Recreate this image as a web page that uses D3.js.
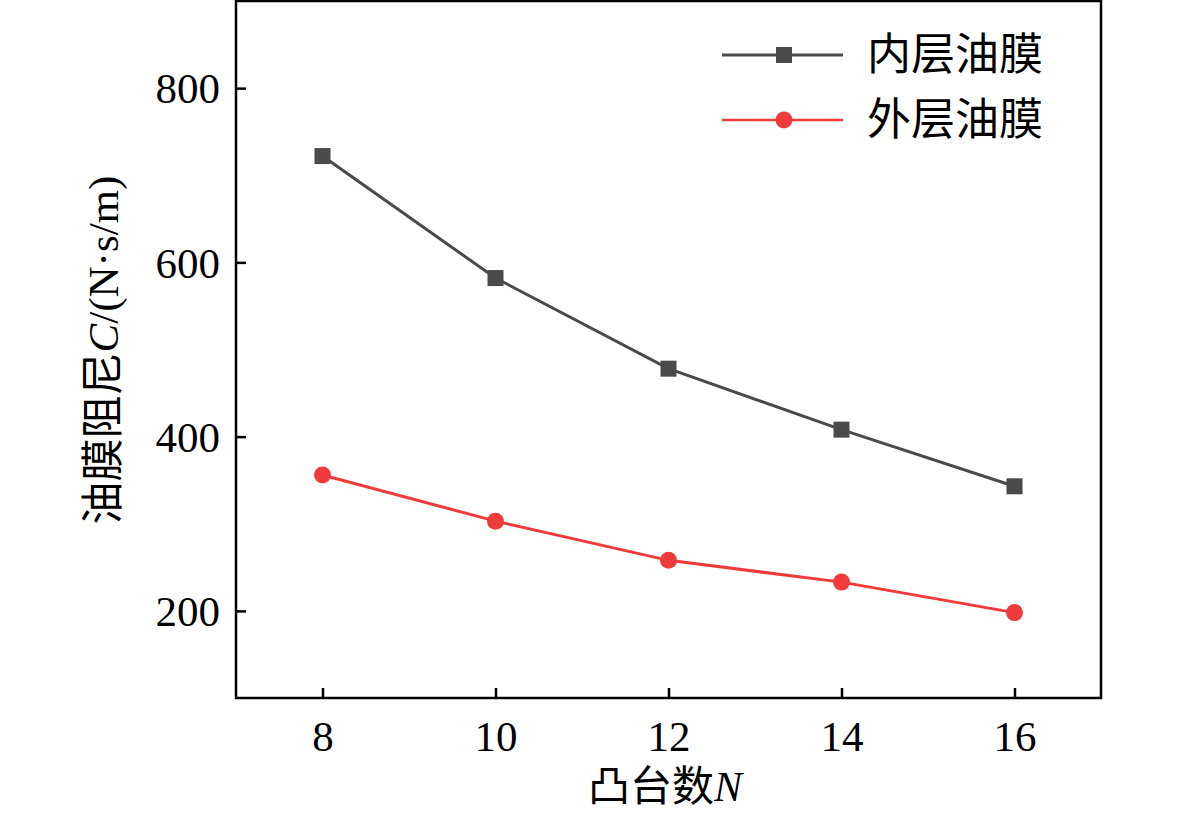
<!DOCTYPE html>
<html>
<head>
<meta charset="utf-8">
<script src="https://cdn.jsdelivr.net/npm/d3@7"></script>
<style>
  body { margin: 0; background: #ffffff; }
</style>
</head>
<body>
<script>
// data
var bosses = [8, 10, 12, 14, 16];
var innerFilm = [722, 582, 478, 408, 343];
var outerFilm = [356, 303, 258, 233, 198];
var seriesNames = ["内层油膜", "外层油膜"];
var xTicks = [8, 10, 12, 14, 16];
var yTicks = [200, 400, 600, 800];

var W = 1181, H = 817;
var plotLeft = 236, plotRight = 1101, plotTop = 1, plotBottom = 698;
var serif = "'Liberation Serif', 'Times New Roman', 'Noto Sans CJK SC', serif";
var cjk = "'Liberation Serif', 'Noto Sans CJK SC', serif";

var svg = d3.select("body").append("svg")
    .attr("width", W)
    .attr("height", H);

var x = d3.scaleLinear().domain([7, 17]).range([plotLeft, plotRight]);
var y = d3.scaleLinear().domain([100, 900]).range([plotBottom, plotTop]);

// axes, ticks pointing inward
var xAxis = svg.append("g")
    .attr("transform", "translate(0," + plotBottom + ")")
    .call(d3.axisBottom(x).tickValues(xTicks).tickSizeInner(-10).tickSizeOuter(0).tickPadding(22));
var yAxis = svg.append("g")
    .attr("transform", "translate(" + plotLeft + ",0)")
    .call(d3.axisLeft(y).tickValues(yTicks).tickSizeInner(-10).tickSizeOuter(0).tickPadding(16));

[xAxis, yAxis].forEach(function(g) {
  g.select(".domain").remove();
  g.selectAll(".tick line").attr("stroke", "#000").attr("stroke-width", 2.5);
  g.selectAll(".tick text")
    .attr("fill", "#000")
    .style("font-family", serif)
    .style("font-size", "43px");
});
yAxis.selectAll(".tick text").attr("dy", "0.34em");

// frame
svg.append("rect")
    .attr("x", plotLeft)
    .attr("y", plotTop)
    .attr("width", plotRight - plotLeft)
    .attr("height", plotBottom - plotTop)
    .attr("fill", "none")
    .attr("stroke", "#000")
    .attr("stroke-width", 2.5);

var line = d3.line()
    .x(function(d, i) { return x(bosses[i]); })
    .y(function(d) { return y(d); });

// inner film - dark grey squares
svg.append("path")
    .datum(innerFilm)
    .attr("d", line)
    .attr("fill", "none")
    .attr("stroke", "#4a4a4a")
    .attr("stroke-width", 3);
svg.selectAll(".sq")
    .data(innerFilm)
    .enter().append("rect")
    .attr("class", "sq")
    .attr("x", function(d, i) { return x(bosses[i]) - 8; })
    .attr("y", function(d) { return y(d) - 8; })
    .attr("width", 16)
    .attr("height", 16)
    .attr("fill", "#4a4a4a");

// outer film - red circles
svg.append("path")
    .datum(outerFilm)
    .attr("d", line)
    .attr("fill", "none")
    .attr("stroke", "#ef3b3b")
    .attr("stroke-width", 3);
svg.selectAll(".dot")
    .data(outerFilm)
    .enter().append("circle")
    .attr("class", "dot")
    .attr("cx", function(d, i) { return x(bosses[i]); })
    .attr("cy", function(d) { return y(d); })
    .attr("r", 8.5)
    .attr("fill", "#ef3b3b");

// legend
var legend = svg.append("g");
var legY = [55, 120];
var legCol = ["#4a4a4a", "#ef3b3b"];
seriesNames.forEach(function(name, i) {
  legend.append("line")
      .attr("x1", 722).attr("x2", 843)
      .attr("y1", legY[i]).attr("y2", legY[i])
      .attr("stroke", legCol[i])
      .attr("stroke-width", i === 0 ? 3 : 2.5);
  if (i === 0) {
    legend.append("rect")
        .attr("x", 776).attr("y", legY[i] - 8)
        .attr("width", 16).attr("height", 16)
        .attr("fill", legCol[i]);
  } else {
    legend.append("circle")
        .attr("cx", 784).attr("cy", legY[i])
        .attr("r", 8.5)
        .attr("fill", legCol[i]);
  }
  legend.append("text")
      .attr("x", 867)
      .attr("y", legY[i] + 15)
      .style("font-family", cjk)
      .style("font-size", "44px")
      .attr("fill", "#000")
      .text(name);
});

// axis titles
var xt = svg.append("text")
    .attr("x", 665)
    .attr("y", 801)
    .attr("text-anchor", "middle")
    .style("font-family", cjk)
    .style("font-size", "42px")
    .attr("fill", "#000");
xt.append("tspan").text("凸台数");
xt.append("tspan").style("font-style", "italic").style("font-family", serif).text("N");

var yt = svg.append("text")
    .attr("transform", "translate(118,350) rotate(-90)")
    .attr("text-anchor", "middle")
    .style("font-family", cjk)
    .style("font-size", "43px")
    .attr("fill", "#000");
yt.append("tspan").text("油膜阻尼");
yt.append("tspan").style("font-style", "italic").style("font-family", serif).text("C");
yt.append("tspan").style("font-family", serif).text("/(N·s/m)");
</script>
</body>
</html>
